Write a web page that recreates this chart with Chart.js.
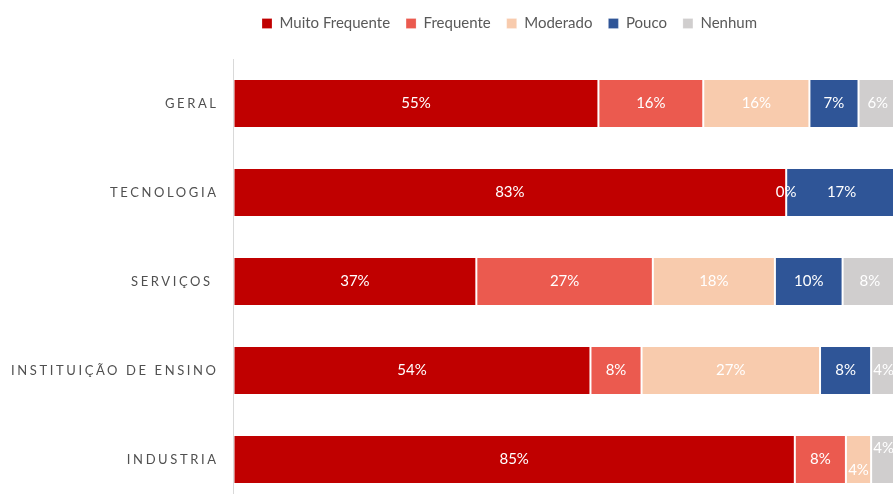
<!DOCTYPE html>
<html>
<head>
<meta charset="utf-8">
<script src="https://cdn.jsdelivr.net/npm/chart.js@4/dist/chart.umd.min.js"></script>
<style>
  html, body { margin: 0; padding: 0; overflow: hidden; background: #fff; }
  canvas { display: block; }
</style>
</head>
<body>
<canvas id="chart" width="897" height="504"></canvas>
<script>
const categories = ["GERAL", "TECNOLOGIA", "SERVIÇOS ", "INSTITUIÇÃO DE ENSINO", "INDUSTRIA"];
const seriesNames = ["Muito Frequente", "Frequente", "Moderado", "Pouco", "Nenhum"];
const muitoFrequente = [55.0, 83.3, 36.6, 53.8, 84.6];
const frequente = [15.8, 0, 26.6, 7.7, 7.7];
const moderado = [16.0, null, 18.4, 26.9, 3.8];
const pouco = [7.4, 16.7, 10.2, 7.7, null];
const nenhum = [5.8, null, 8.2, 3.8, 3.8];

const colors = ["#C00000", "#EB5A4F", "#F8CBAD", "#2F5597", "#D0CECE"];
const textGrey = "#595959";

// data labels in the middle of each segment
const barLabels = {
  id: "barLabels",
  afterDatasetsDraw(chart) {
    const ctx = chart.ctx;
    ctx.save();
    ctx.font = "15px Lato";
    ctx.fillStyle = "#fff";
    ctx.textAlign = "center";
    ctx.textBaseline = "middle";
    categories.forEach((c, i) => {
      const items = [];
      chart.data.datasets.forEach((ds, d) => {
        const v = ds.data[i];
        if (v === null) return;
        const bar = chart.getDatasetMeta(d).data[i];
        items.push({ v, x: (bar.x + bar.base) / 2, y: bar.y, w: Math.abs(bar.x - bar.base), dy: 0 });
      });
      // two narrow segments side by side: push labels apart
      for (let k = 1; k < items.length; k++) {
        if (items[k].w < 30 && items[k - 1].w < 30 && items[k - 1].w > 0) {
          items[k - 1].dy = 11;
          items[k].dy = -11;
        }
      }
      items.forEach(it => ctx.fillText(Math.round(it.v) + "%", it.x, it.y + it.dy));
    });
    ctx.restore();
  }
};

// category names with letter spacing
const spacedTicks = {
  id: "spacedTicks",
  afterDraw(chart) {
    const ctx = chart.ctx;
    const y = chart.scales.y;
    ctx.save();
    ctx.font = "13px Lato";
    ctx.letterSpacing = "2.6px";
    ctx.fillStyle = "#505050";
    ctx.textAlign = "right";
    ctx.textBaseline = "middle";
    categories.forEach((c, i) => {
      ctx.fillText(c, 218.6, y.getPixelForValue(i));
    });
    ctx.restore();
  }
};

// move legend to where it sits in the original
const legendPlace = {
  id: "legendPlace",
  afterLayout(chart) {
    const lg = chart.legend;
    const dx = 509.5 - (lg.left + lg.right) / 2;
    lg.left += dx;
    lg.right += dx;
    lg.top -= 18;
    lg.bottom -= 18;
  }
};

const seriesData = [muitoFrequente, frequente, moderado, pouco, nenhum];

new Chart(document.getElementById("chart"), {
  type: "bar",
  data: {
    labels: categories,
    datasets: seriesNames.map((name, i) => ({
      label: name,
      data: seriesData[i],
      backgroundColor: colors[i],
      borderColor: "rgba(255,255,255,0.22)",
      borderWidth: 1,
      borderSkipped: false,
      barPercentage: 0.553,
      categoryPercentage: 1
    }))
  },
  options: {
    indexAxis: "y",
    responsive: false,
    animation: false,
    layout: { padding: { top: 18, left: 0, right: 0, bottom: 0 } },
    plugins: {
      legend: {
        display: true,
        position: "top",
        labels: {
          boxWidth: 10,
          boxHeight: 10,
          padding: 16,
          color: textGrey,
          font: { family: "Lato", size: 15 }
        }
      },
      tooltip: { enabled: false }
    },
    scales: {
      x: {
        stacked: true,
        min: 0,
        max: 100,
        display: false
      },
      y: {
        stacked: true,
        grid: { display: false },
        border: { display: true, color: "#D9D9D9", width: 1 },
        ticks: { display: false },
        afterFit(scale) { scale.width = 233.5; }
      }
    }
  },
  plugins: [barLabels, spacedTicks, legendPlace]
});
</script>
</body>
</html>
